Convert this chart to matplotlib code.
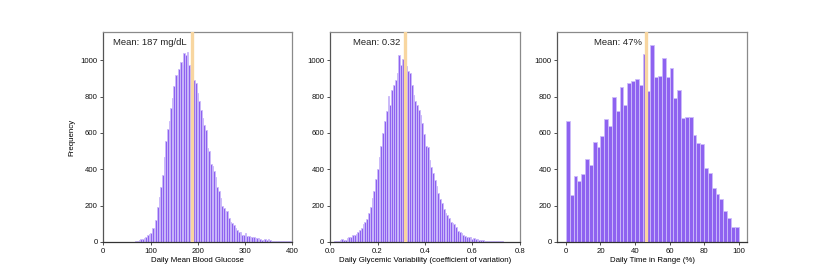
import numpy as np
import matplotlib
matplotlib.use("Agg")
import matplotlib.pyplot as plt

plt.rcParams['font.family'] = ['Liberation Sans', 'DejaVu Sans']

# ---------------- data ----------------
# Panel 1: daily mean blood glucose (mg/dL)
glucose_start = 68.0
glucose_width = 3.5
glucose_counts = [3, 6, 10, 14, 18, 24, 30, 36, 42, 50,
                  75, 70, 120, 195, 250, 305, 370, 470, 553, 621,
                  667, 737, 792, 857, 921, 915, 949, 989, 976, 1040,
                  1026, 1044, 976, 950, 930, 893, 875, 820, 774, 728,
                  682, 645, 615, 517, 502, 430, 419, 393, 355, 305,
                  283, 241, 200, 186, 167, 173, 131, 112, 107, 94,
                  75, 66, 57, 53, 39, 39, 48, 33, 33, 29,
                  26, 26, 24, 22, 20, 15, 13, 13, 15, 11,
                  15, 13, 7, 7, 7, 6, 5, 5, 5, 4,
                  4, 4, 3, 3, 2]
glucose_mean = 187.4

# Panel 2: daily glycemic variability (CV)
cv_start = 0.010
cv_width = 0.0075
cv_counts = [2, 3, 5, 6, 10, 14, 12, 13, 20, 26,
             28, 36, 40, 45, 57, 66, 75, 99, 108, 128,
             158, 195, 240, 280, 345, 400, 465, 526, 600, 668,
             719, 801, 756, 838, 866, 893, 930, 1031, 976, 1004,
             1004, 967, 939, 930, 866, 811, 774, 756, 728, 700,
             654, 594, 529, 520, 449, 410, 379, 342, 309, 268,
             235, 217, 180, 162, 149, 131, 112, 107, 99, 85,
             62, 57, 48, 39, 33, 29, 29, 26, 18, 20,
             15, 15, 11, 9, 9, 7, 7, 5, 5, 5,
             4, 4, 4, 3, 3, 3, 2, 2, 1, 1]
cv_mean = 0.317

# Panel 3: daily time in range (%)
tir_start = 0.0
tir_width = 100.0 / 45
tir_counts = [666, 260, 363, 336, 372, 455, 424, 552, 521, 585,
              677, 640, 796, 719, 855, 756, 872, 883, 899, 864,
              1035, 833, 1081, 906, 915, 1013, 906, 958, 790, 838,
              682, 687, 687, 586, 544, 539, 408, 380, 296, 265,
              239, 169, 130, 81, 81]
tir_mean = 46.6

xlabels = ["Daily Mean Blood Glucose",
           "Daily Glycemic Variability (coefficient of variation)",
           "Daily Time in Range (%)"]
mean_texts = ["Mean: 187 mg/dL", "Mean: 0.32", "Mean: 47%"]
ylabel = "Frequency"

# ---------------- style ----------------
BAR_FC = '#8e62f0'
BAR_EC = '#cdbcfa'
LINE_C = '#f8d6a0'
SPINE_C = '#8a8a8a'
TICK_FS = 5.6
LABEL_FS = 5.7
TEXT_FS = 6.8

fig = plt.figure(figsize=(8.30, 2.77), dpi=100)
bottom, height = 0.1264, 0.758
lefts = [0.1245, 0.3976, 0.6714]
widths = [0.2277, 0.2289, 0.2289]

panels = [
    (glucose_start, glucose_width, glucose_counts, glucose_mean, (0, 400), [0, 100, 200, 300, 400], ['0', '100', '200', '300', '400']),
    (cv_start, cv_width, cv_counts, cv_mean, (0, 0.8), [0, 0.2, 0.4, 0.6, 0.8], ['0.0', '0.2', '0.4', '0.6', '0.8']),
    (tir_start, tir_width, tir_counts, tir_mean, (-5, 105), [0, 20, 40, 60, 80, 100], ['0', '20', '40', '60', '80', '100']),
]

for i, (start, w, counts, mean, xlim, xt, xtl) in enumerate(panels):
    ax = fig.add_axes([lefts[i], bottom, widths[i], height])
    counts = np.asarray(counts, dtype=float)
    lefts_x = start + w * np.arange(len(counts))
    ax.bar(lefts_x, counts, width=w, align='edge', color=BAR_FC,
           edgecolor=BAR_EC, linewidth=0.6, zorder=2)
    ax.axvline(mean, color=LINE_C, linewidth=2.4, zorder=3)
    ax.annotate(mean_texts[i], xy=(mean, 1.0), xycoords=('data', 'axes fraction'),
                xytext=(-3.5, -7.3), textcoords='offset points',
                ha='right', va='center', fontsize=TEXT_FS, color='#222222')
    ax.set_xlim(*xlim)
    ax.set_ylim(0, 1155)
    ax.set_xticks(xt)
    ax.set_xticklabels(xtl)
    ax.set_yticks([0, 200, 400, 600, 800, 1000])
    ax.tick_params(axis='both', labelsize=TICK_FS, length=2.5, width=0.6,
                   pad=1.5, color='#333333', labelcolor='#111111')
    for sp in ax.spines.values():
        sp.set_color(SPINE_C)
        sp.set_linewidth(0.9)
    ax.spines['bottom'].set_color('#333333')
    ax.spines['left'].set_color('#555555')
    ax.set_xlabel(xlabels[i], fontsize=LABEL_FS, labelpad=2)
    if i == 0:
        ax.set_ylabel(ylabel, fontsize=LABEL_FS, labelpad=4)

fig.savefig('out.png', dpi=100)
